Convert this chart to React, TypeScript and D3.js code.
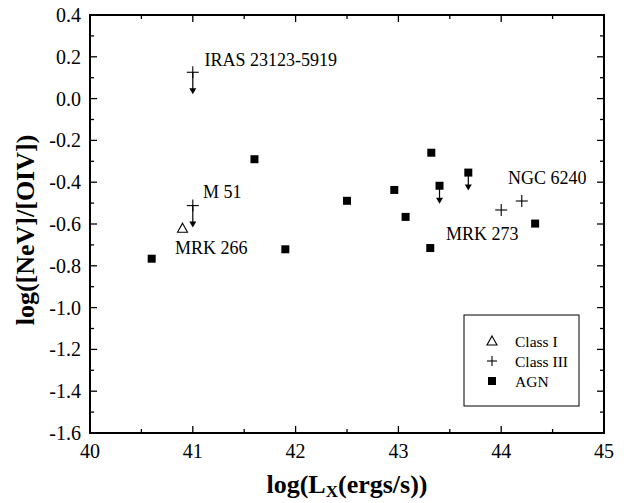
import React from "react";
import * as d3 from "d3";

const xTicks = [40, 41, 42, 43, 44, 45];
const yTicks = [0.4, 0.2, 0.0, -0.2, -0.4, -0.6, -0.8, -1.0, -1.2, -1.4, -1.6];

// AGN (filled squares)
const agnX = [40.6, 41.6, 41.9, 42.5, 42.96, 43.07, 43.31, 43.32, 43.4, 43.68, 44.33];
const agnY = [-0.766, -0.29, -0.721, -0.489, -0.437, -0.566, -0.715, -0.259, -0.417, -0.354, -0.598];
const agnUpper = [false, false, false, false, false, false, false, false, true, true, false];

// Class III (crosses)
const c3X = [41.0, 41.0, 44.0, 44.2];
const c3Y = [0.126, -0.512, -0.533, -0.49];
const c3Upper = [true, true, false, false];

// Class I (open triangles)
const c1X = [40.9];
const c1Y = [-0.62];

const labels = ["IRAS 23123-5919", "M 51", "MRK 266", "MRK 273", "NGC 6240"];
const labelX = [41.114, 41.10, 40.827, 43.463, 44.066];
const labelY = [0.154, -0.474, -0.744, -0.677, -0.409];

const legendNames = ["Class I", "Class III", "AGN"];

const W = 626;
const H = 503;
const FONT = "Liberation Serif, Times New Roman, serif";

export default function App() {
  const x = d3.scaleLinear().domain([40, 45]).range([90, 604]);
  const y = d3.scaleLinear().domain([-1.6, 0.4]).range([433, 15]);
  const x0 = x(40), x1 = x(45), y0 = y(-1.6), y1 = y(0.4);

  const xMinor = d3.range(40.5, 45, 1);
  const yMinor = d3.range(-1.5, 0.4, 0.2).map((v) => Math.round(v * 10) / 10);

  const tstyle = { fontFamily: FONT };

  const arrow = (cx: number, cy: number, len: number, key: string) => (
    <g key={key}>
      <line x1={cx} y1={cy} x2={cx} y2={cy + len - 5} stroke="#000" strokeWidth={1.2} />
      <path d={`M${cx - 3.5},${cy + len - 6}L${cx + 3.5},${cy + len - 6}L${cx},${cy + len}Z`} fill="#000" />
    </g>
  );

  const cross = (cx: number, cy: number, key: string, s = 6) => (
    <g key={key} stroke="#000" strokeWidth={1.1}>
      <line x1={cx - s} y1={cy} x2={cx + s} y2={cy} />
      <line x1={cx} y1={cy - s} x2={cx} y2={cy + s} />
    </g>
  );

  const tri = (cx: number, cy: number, key: string) => (
    <path key={key} d={`M${cx},${cy - 5}L${cx + 5},${cy + 4}L${cx - 5},${cy + 4}Z`} fill="#fff" stroke="#000" strokeWidth={1.1} />
  );

  const square = (cx: number, cy: number, key: string) => (
    <rect key={key} x={cx - 4} y={cy - 4} width={8} height={8} fill="#000" />
  );

  const legX = 464, legY = 315, legW = 115, legH = 91;

  return (
    <svg width={W} height={H} style={{ position: "absolute", left: 0, top: 0, background: "#fff", fontFamily: FONT }}>
      <rect x={0} y={0} width={W} height={H} fill="#fff" />
      {/* ticks */}
      <g stroke="#000" strokeWidth={1.3}>
        {xTicks.map((t) => (
          <g key={"xt" + t}>
            <line x1={x(t)} x2={x(t)} y1={y0} y2={y0 - 7} />
            <line x1={x(t)} x2={x(t)} y1={y1} y2={y1 + 7} />
          </g>
        ))}
        {xMinor.map((t) => (
          <g key={"xm" + t}>
            <line x1={x(t)} x2={x(t)} y1={y0} y2={y0 - 4} />
            <line x1={x(t)} x2={x(t)} y1={y1} y2={y1 + 4} />
          </g>
        ))}
        {yTicks.map((t) => (
          <g key={"yt" + t}>
            <line x1={x0} x2={x0 + 7} y1={y(t)} y2={y(t)} />
            <line x1={x1} x2={x1 - 7} y1={y(t)} y2={y(t)} />
          </g>
        ))}
        {yMinor.map((t) => (
          <g key={"ym" + t}>
            <line x1={x0} x2={x0 + 4} y1={y(t)} y2={y(t)} />
            <line x1={x1} x2={x1 - 4} y1={y(t)} y2={y(t)} />
          </g>
        ))}
      </g>
      <rect x={x0} y={y1} width={x1 - x0} height={y0 - y1} fill="none" stroke="#000" strokeWidth={2} />

      {/* tick labels */}
      {xTicks.map((t) => (
        <text key={"xl" + t} x={x(t)} y={458} textAnchor="middle" fontSize={20} style={tstyle}>{t}</text>
      ))}
      {yTicks.map((t) => (
        <text key={"yl" + t} x={81} y={y(t) + 7} textAnchor="end" fontSize={20} style={tstyle}>{t.toFixed(1)}</text>
      ))}

      {/* axis titles */}
      <text x={347} y={493} textAnchor="middle" fontSize={26} fontWeight="bold" style={tstyle}>
        log(L<tspan fontSize={17} dy={4}>X</tspan><tspan dy={-4}>(ergs/s))</tspan>
      </text>
      <text transform={`translate(34,${(y0 + y1) / 2 + 6}) rotate(-90)`} textAnchor="middle" fontSize={26} fontWeight="bold" style={tstyle}>
        log([NeV]/[OIV])
      </text>

      {/* data: AGN */}
      {agnX.map((v, i) => (
        <g key={"a" + i}>
          {agnUpper[i] && arrow(x(v), y(agnY[i]), 18, "aa" + i)}
          {square(x(v), y(agnY[i]), "as" + i)}
        </g>
      ))}
      {/* data: Class III */}
      {c3X.map((v, i) => (
        <g key={"c" + i}>
          {c3Upper[i] && arrow(x(v), y(c3Y[i]), 22, "ca" + i)}
          {cross(x(v), y(c3Y[i]), "cc" + i)}
        </g>
      ))}
      {/* data: Class I */}
      {c1X.map((v, i) => tri(x(v), y(c1Y[i]), "t" + i))}

      {/* point labels */}
      {labels.map((l, i) => (
        <text key={"l" + i} x={x(labelX[i])} y={y(labelY[i])} fontSize={18} style={tstyle}>{l}</text>
      ))}

      {/* legend */}
      <rect x={legX} y={legY} width={legW} height={legH} fill="#fff" stroke="#000" strokeWidth={1} />
      {legendNames.map((n, i) => {
        const cy = 341 + i * 20;
        const mx = 492;
        return (
          <g key={"lg" + i}>
            {i === 0 && tri(mx, cy, "lt")}
            {i === 1 && cross(mx, cy, "lc", 5)}
            {i === 2 && square(mx, cy, "ls")}
            <text x={515} y={cy + 5.5} fontSize={15.5} style={tstyle}>{n}</text>
          </g>
        );
      })}
    </svg>
  );
}
